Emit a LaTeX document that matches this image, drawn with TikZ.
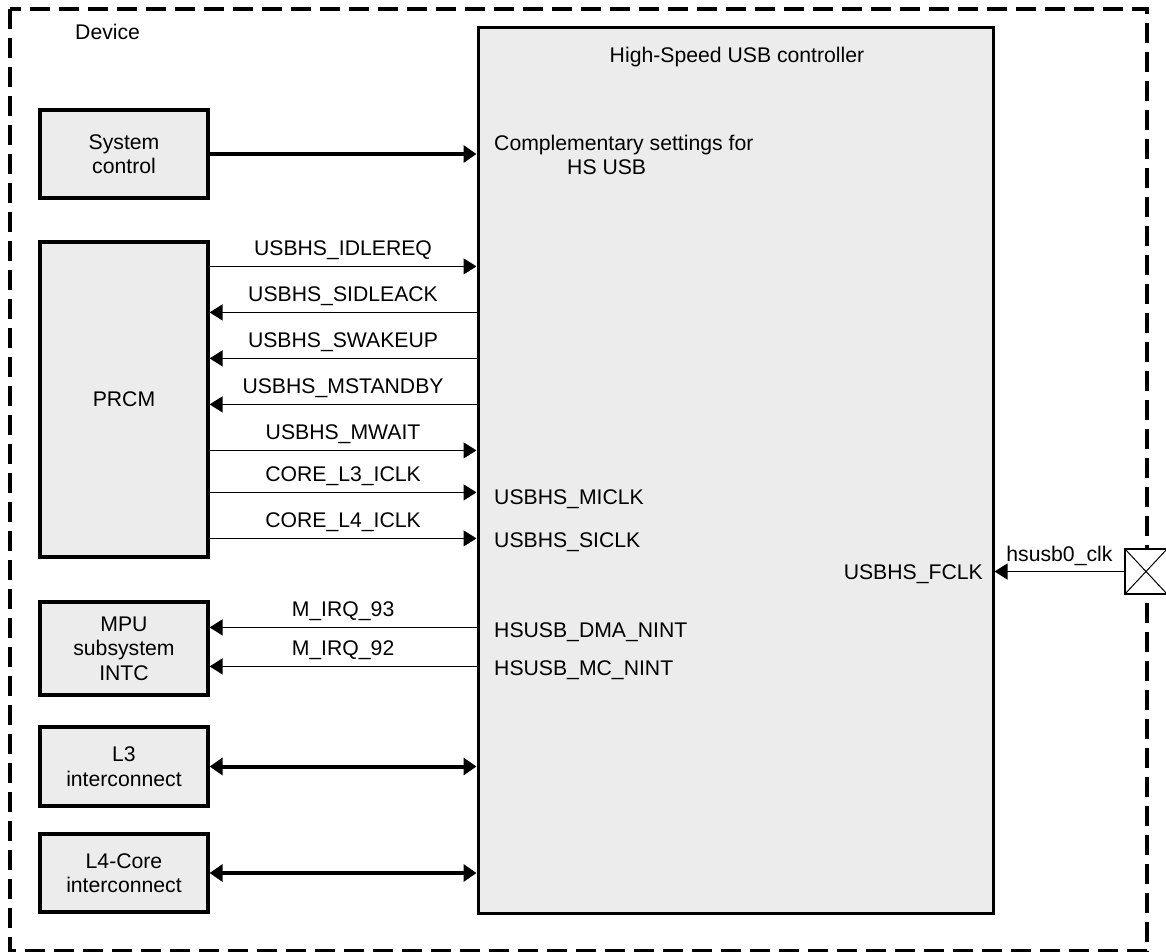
\documentclass[tikz,border=0pt]{standalone}
\usepackage{fontspec}
\setmainfont{Liberation Sans}
\usetikzlibrary{arrows.meta}
\definecolor{boxgrey}{HTML}{ECECEC}
\begin{document}
\begin{tikzpicture}[x=1pt,y=-1pt,
  font=\fontsize{21.2}{24.5}\selectfont,
  blk/.style={draw, line width=3.2pt, fill=boxgrey, align=center, inner sep=0pt, minimum width=168pt},
  sig/.style={line width=1.4pt, -{Triangle[length=13pt,width=16pt]}},
  bus/.style={line width=4pt, -{Triangle[length=13pt,width=17pt]}},
  bibus/.style={line width=4pt, {Triangle[length=13pt,width=17pt]}-{Triangle[length=13pt,width=17pt]}},
  lbl/.style={anchor=base, yshift=10.5pt, inner sep=0pt},
  txt/.style={inner sep=0pt}
]
\useasboundingbox (0,0) rectangle (1166,951);
% device border
\draw[line width=3.5pt, dash pattern=on 20pt off 9pt] (10,9) rectangle (1147,951);

% blocks
\node[blk, minimum height=88pt] (sys) at (124,154) {System\\control};
\node[blk, minimum height=315pt] (prcm) at (124,399.5) {PRCM};
\node[blk, minimum height=93pt] (mpu) at (124,648.5) {MPU\\subsystem\\INTC};
\node[blk, minimum height=79pt] (l3) at (124,766.5) {L3\\interconnect};
\node[blk, minimum height=78pt] (l4) at (124,873) {L4-Core\\interconnect};
\node[draw, line width=3pt, fill=boxgrey, minimum width=515pt, minimum height=886pt, inner sep=0pt] (usb) at (735.5,470) {};

% pad
\node[draw, line width=1.2pt, fill=white, minimum width=42pt, minimum height=45pt, inner sep=0pt] (pad) at (1146,571.5) {};
\draw[line width=1pt] (pad.north west) -- (pad.south east) (pad.south west) -- (pad.north east);

% texts
\node[txt, anchor=base west] (dev) at (75,39.5) {Device};
\node[txt, anchor=base] (title) at (737,62.5) {High-Speed USB controller};
\node[txt, anchor=base west] (comp1) at (494,150.5) {Complementary settings for};
\node[txt, anchor=base west] (comp2) at (567,174.5) {HS USB};
\node[txt, anchor=base west] (micl) at (494,504.5) {USBHS\_MICLK};
\node[txt, anchor=base west] (sicl) at (494,547.5) {USBHS\_SICLK};
\node[txt, anchor=base west] (dma) at (494,637.5) {HSUSB\_DMA\_NINT};
\node[txt, anchor=base west] (mc) at (494,675.5) {HSUSB\_MC\_NINT};
\node[txt, anchor=base east] (fclk) at (983,579.5) {USBHS\_FCLK};

% coordinates on PRCM and MPU edges
\path (prcm.north east) ++(0,26) coordinate (p1)
      (prcm.north east) ++(0,72) coordinate (p2)
      (prcm.north east) ++(0,118) coordinate (p3)
      (prcm.north east) ++(0,164) coordinate (p4)
      (prcm.north east) ++(0,210) coordinate (p5)
      (prcm.north east) ++(0,252) coordinate (p6)
      (prcm.north east) ++(0,298) coordinate (p7);
\path (mpu.north east) ++(0,27) coordinate (m1)
      (mpu.north east) ++(0,66) coordinate (m2);

% connectors
\draw[bus] (sys.east) -- (sys.east -| usb.west);
\draw[sig] (p1) -- (p1 -| usb.west) node[lbl, midway] {USBHS\_IDLEREQ};
\draw[sig] (p2 -| usb.west) -- (p2) node[lbl, midway] {USBHS\_SIDLEACK};
\draw[sig] (p3 -| usb.west) -- (p3) node[lbl, midway] {USBHS\_SWAKEUP};
\draw[sig] (p4 -| usb.west) -- (p4) node[lbl, midway] {USBHS\_MSTANDBY};
\draw[sig] (p5) -- (p5 -| usb.west) node[lbl, midway] {USBHS\_MWAIT};
\draw[sig] (p6) -- (p6 -| usb.west) node[lbl, midway] {CORE\_L3\_ICLK};
\draw[sig] (p7) -- (p7 -| usb.west) node[lbl, midway] {CORE\_L4\_ICLK};
\draw[sig] (m1 -| usb.west) -- (m1) node[lbl, midway] {M\_IRQ\_93};
\draw[sig] (m2 -| usb.west) -- (m2) node[lbl, midway] {M\_IRQ\_92};
\draw[bibus] (l3.east) -- (l3.east -| usb.west);
\draw[bibus] (l4.east) -- (l4.east -| usb.west);
\draw[sig] (pad.west) -- (pad.west -| usb.east) node[lbl, midway] {hsusb0\_clk};
\end{tikzpicture}
\end{document}
